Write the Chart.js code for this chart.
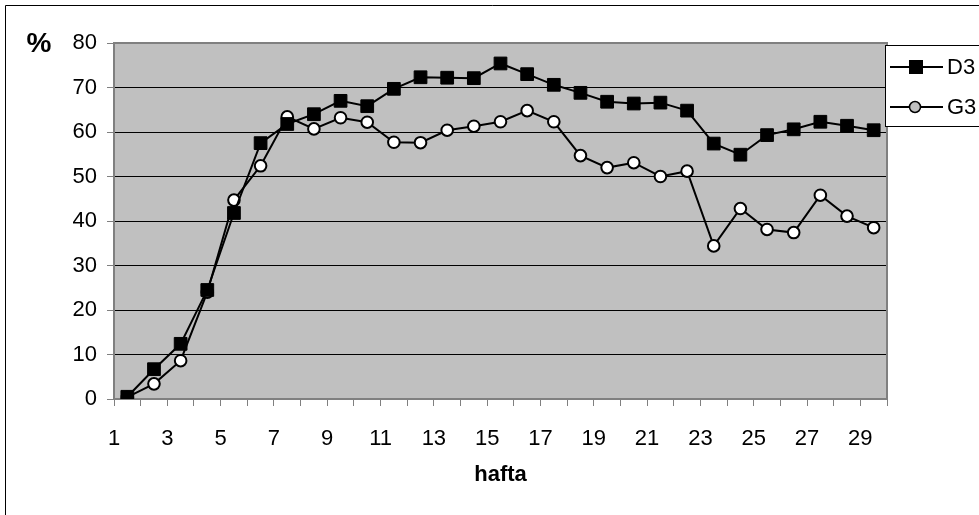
<!DOCTYPE html>
<html><head><meta charset="utf-8">
<script src="https://cdn.jsdelivr.net/npm/chart.js@4/dist/chart.umd.min.js"></script>
<style>html,body{margin:0;padding:0;background:#fff}canvas{display:block}</style>
</head><body>
<canvas id="c" width="979" height="515"></canvas>
<script>
const weeks = [1,2,3,4,5,6,7,8,9,10,11,12,13,14,15,16,17,18,19,20,21,22,23,24,25,26,27,28,29];
const d3Values = [0.5,6.7,12.4,24.5,41.8,57.5,61.8,64.0,67.0,65.8,69.7,72.3,72.2,72.1,75.4,73.0,70.6,68.8,66.8,66.4,66.6,64.8,57.4,54.9,59.3,60.6,62.3,61.4,60.4];
const g3Values = [0.4,3.4,8.6,24.0,44.7,52.4,63.4,60.7,63.2,62.2,57.7,57.6,60.4,61.3,62.3,64.8,62.3,54.7,52.0,53.1,50.0,51.2,34.4,42.8,38.1,37.4,45.8,41.1,38.5];
const yTicks = [0,10,20,30,40,50,60,70,80];
const seriesNames = ['D3','G3'];
const yUnit = '%';
const xTitle = 'hafta';

const FONT = 'Liberation Sans, Arial, sans-serif';

const decor = {
  id: 'decor',
  beforeDraw(chart) {
    const {ctx, chartArea: a} = chart;
    ctx.save();
    ctx.fillStyle = '#fff';
    ctx.fillRect(0,0,chart.width,chart.height);
    ctx.fillStyle = '#c0c0c0';
    ctx.fillRect(a.left, a.top, a.right - a.left, a.bottom - a.top);
    ctx.strokeStyle = '#000'; ctx.lineWidth = 1;
    ctx.beginPath(); ctx.moveTo(5.5, chart.height); ctx.lineTo(5.5, 5.5); ctx.lineTo(chart.width, 5.5); ctx.stroke();
    ctx.restore();
  },
  beforeDatasetsDraw(chart) {
    const {ctx, chartArea: a} = chart;
    ctx.save();
    ctx.strokeStyle = '#808080'; ctx.lineWidth = 2;
    ctx.strokeRect(a.left, a.top, a.right - a.left, a.bottom - a.top);
    ctx.restore();
  },
  afterDraw(chart) {
    const {ctx} = chart;
    ctx.save();
    ctx.fillStyle = '#000';
    ctx.font = 'bold 28px ' + FONT;
    ctx.textAlign = 'center'; ctx.textBaseline = 'alphabetic';
    ctx.fillText(yUnit, 39, 52);
    ctx.fillStyle = '#fff'; ctx.strokeStyle = '#000'; ctx.lineWidth = 1;
    ctx.fillRect(885.5, 45.5, 100, 81);
    ctx.strokeRect(885.5, 45.5, 100, 81);
    const rows = [67, 107];
    rows.forEach((y, i) => {
      ctx.strokeStyle = '#000'; ctx.lineWidth = 2;
      ctx.beginPath(); ctx.moveTo(890, y); ctx.lineTo(943, y); ctx.stroke();
      if (i === 0) {
        ctx.fillStyle = '#000';
        ctx.fillRect(909, y - 7, 14, 14);
      } else {
        ctx.fillStyle = '#c0c0c0'; ctx.lineWidth = 1.5;
        ctx.beginPath(); ctx.arc(915, y, 5.5, 0, Math.PI*2); ctx.fill(); ctx.stroke();
      }
      ctx.fillStyle = '#000';
      ctx.font = '22px ' + FONT;
      ctx.textAlign = 'left'; ctx.textBaseline = 'middle';
      ctx.fillText(seriesNames[i], 947, y + 1);
    });
    ctx.restore();
  }
};

new Chart(document.getElementById('c'), {
  type: 'line',
  data: {
    datasets: [
      {
        label: seriesNames[0],
        data: weeks.map((w, i) => ({x: w, y: d3Values[i]})),
        borderColor: '#000', borderWidth: 2,
        pointStyle: 'rect', pointRadius: 9, pointBackgroundColor: '#000', pointBorderColor: '#000', pointBorderWidth: 1,
        tension: 0
      },
      {
        label: seriesNames[1],
        data: weeks.map((w, i) => ({x: w, y: g3Values[i]})),
        borderColor: '#000', borderWidth: 2,
        pointStyle: 'circle', pointRadius: 5.8, pointBackgroundColor: '#fff', pointBorderColor: '#000', pointBorderWidth: 2,
        tension: 0
      }
    ]
  },
  options: {
    responsive: false, animation: false,
    layout: {padding: {left: 0, top: 43, right: 92, bottom: 0}},
    plugins: {legend: {display: false}, tooltip: {enabled: false}},
    scales: {
      x: {
        type: 'linear', min: 0.5, max: weeks.length + 0.5,
        afterBuildTicks(scale) {
          const t = [];
          for (let i = 0; i <= weeks.length; i++) t.push({value: 0.5 + i});
          scale.ticks = t;
        },
        afterFit(scale) { scale.height = 515 - 399; },
        border: {display: true, color: '#808080', width: 2},
        grid: {drawOnChartArea: false, drawTicks: true, tickLength: 7, tickColor: '#808080', tickWidth: 1},
        ticks: {
          autoSkip: false, maxRotation: 0, color: '#000', font: {family: FONT, size: 22}, padding: 20,
          callback(v) {
            const w = v + 0.5;
            const idx = weeks.indexOf(w);
            return (idx >= 0 && idx % 2 === 0) ? String(weeks[idx]) : '';
          }
        },
        title: {display: true, text: xTitle, color: '#000', font: {family: FONT, size: 22, weight: 'bold'}, padding: {top: 0, bottom: 27}}
      },
      y: {
        min: yTicks[0], max: yTicks[yTicks.length - 1],
        afterBuildTicks(scale) { scale.ticks = yTicks.map(v => ({value: v})); },
        afterFit(scale) { scale.width = 114; },
        border: {display: true, color: '#808080', width: 2},
        grid: {
          color: (c) => (c.tick && (c.tick.value === 80 || c.tick.value === 0)) ? '#808080' : '#000',
          lineWidth: 1, drawTicks: true, tickLength: 7, tickColor: '#808080'
        },
        ticks: {color: '#000', font: {family: FONT, size: 22}, padding: 10}
      }
    }
  },
  plugins: [decor]
});
</script>
</body></html>
